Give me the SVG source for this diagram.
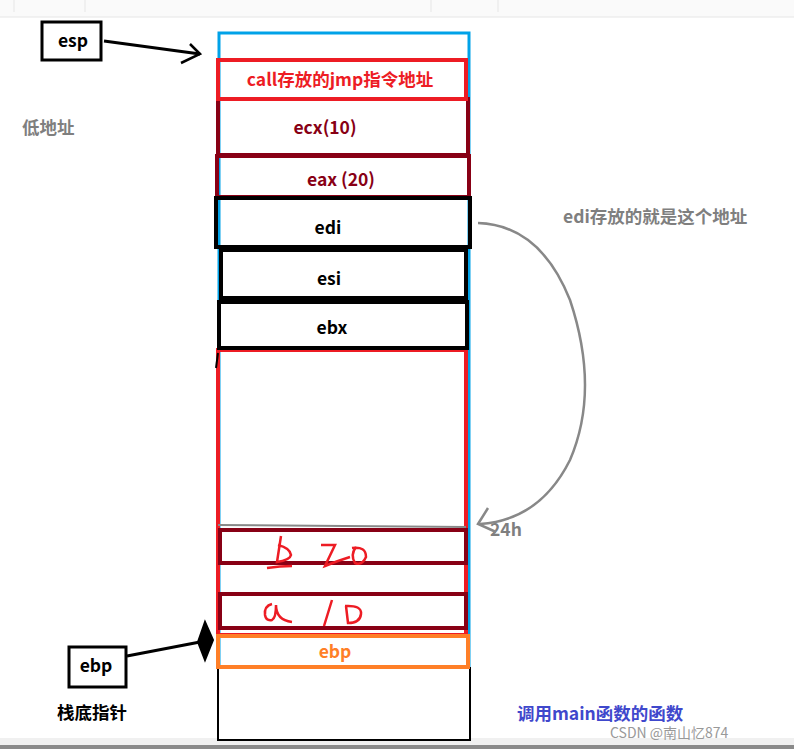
<svg xmlns="http://www.w3.org/2000/svg" width="794" height="749" viewBox="0 0 794 749">
<style>
text{font-family:"Noto Sans CJK SC","Liberation Sans",sans-serif;font-weight:bold;font-size:17.5px}
.c{text-anchor:middle}
.box{fill:none}
</style>
<rect width="794" height="749" fill="#fff"/>
<rect x="0" y="0" width="794" height="17" fill="#fafafa"/>
<line x1="0" y1="17" x2="794" y2="17" stroke="#e6e6e6"/>
<g stroke="#e6e6e6"><line x1="14" y1="0" x2="14" y2="12"/><line x1="85" y1="0" x2="85" y2="12"/><line x1="431" y1="0" x2="431" y2="12"/><line x1="498" y1="0" x2="498" y2="12"/></g>
<rect x="0" y="738" width="794" height="11" fill="#f0f0f0"/>
<rect x="0" y="745" width="794" height="4" fill="#8a8a8a"/>
<g id="stack">
<rect class="box" x="219" y="33" width="250" height="706" stroke="#00a2e8" stroke-width="3"/>
<rect x="218" y="668" width="252" height="72" fill="#fff" stroke="#000" stroke-width="2"/>
<rect class="box" x="218" y="99" width="250" height="56" stroke="#880015" stroke-width="4"/>
<rect class="box" x="218" y="350" width="248" height="285" stroke="#ed1c24" stroke-width="4"/>
<line x1="218" y1="525" x2="466" y2="527" stroke="#888" stroke-width="2"/>
</g>
<g id="n-call"><rect class="box" x="218" y="60" width="248" height="39" fill="#fff" stroke="#ed1c24" stroke-width="4"/><text class="c" x="340" y="86" fill="#ed1c24">call存放的jmp指令地址</text></g>
<g id="n-ecx"><text class="c" x="325" y="134" fill="#880015">ecx(10)</text></g>
<g id="n-eax"><rect class="box" x="217" y="156" width="252" height="41" stroke="#880015" stroke-width="4"/><text class="c" x="341" y="186" fill="#880015">eax (20)</text></g>
<g id="n-edi"><rect class="box" x="216" y="198" width="254" height="49" stroke="#000" stroke-width="4"/><text class="c" x="328" y="234" fill="#000">edi</text></g>
<g id="n-esi"><rect class="box" x="221" y="250" width="245" height="48" stroke="#000" stroke-width="4"/><text class="c" x="329" y="285" fill="#000">esi</text></g>
<g id="n-ebx"><rect class="box" x="219" y="302" width="248" height="46" stroke="#000" stroke-width="4"/><text class="c" x="332" y="334" fill="#000">ebx</text></g>
<g id="n-b"><rect class="box" x="220" y="530" width="246" height="33" stroke="#880015" stroke-width="4"/>
<g fill="none" stroke="#ed1c24" stroke-width="2.5"><path d="M281 536 L277 562 Q290 560 291 555 Q290 548 278 545 M267 568 Q280 566 292 566"/><path d="M321 545 L335 545 L325 566 Q340 560 350 557 M352 548 Q366 546 366 557 Q362 566 355 563 Q350 555 356 547"/></g></g>
<g id="n-a"><rect class="box" x="220" y="594" width="246" height="34" stroke="#880015" stroke-width="4"/>
<g fill="none" stroke="#ed1c24" stroke-width="2.5"><path d="M272 604 Q264 606 265 615 Q266 621 272 620 Q276 618 276 605 Q276 620 292 622"/><path d="M332 600 L324 626 M345 606 Q362 605 361 614 Q360 623 348 623 L346 606"/></g></g>
<g id="n-ebp"><rect class="box" x="218" y="636" width="250" height="31" fill="#fff" stroke="#ff7f27" stroke-width="4"/><text class="c" x="335" y="658" fill="#ff7f27">ebp</text></g>
<g id="n-esp"><rect x="42" y="22" width="59" height="38" fill="#fff" stroke="#000" stroke-width="3"/><text class="c" x="73" y="47" fill="#000">esp</text></g>
<g id="n-ebpp"><rect x="69" y="647" width="57" height="40" fill="#fff" stroke="#000" stroke-width="3"/><text class="c" x="96" y="672" fill="#000">ebp</text></g>
<g id="labels">
<text x="22" y="134" fill="#7f7f7f">低地址</text>
<text x="563" y="223" fill="#7f7f7f">edi存放的就是这个地址</text>
<text x="490" y="536" fill="#7f7f7f">24h</text>
<text x="57" y="719" fill="#000">栈底指针</text>
<text x="517" y="720" fill="#3f48cc">调用main函数的函数</text>
<text x="610" y="738" fill="#999" style="font-weight:normal;font-size:14px">CSDN @南山忆874</text>
</g>
<g id="connectors" fill="none">
<path d="M104 41 L200 54" stroke="#000" stroke-width="3"/>
<path d="M190 44 L200 54 L181 63" stroke="#000" stroke-width="2.5"/>
<path d="M127 656 L200 642" stroke="#000" stroke-width="3"/>
<path d="M205 622 L213 640 L205 660 L198 642 Z" fill="#000" stroke="#000" stroke-width="2"/>
<path d="M218 353 L216 368" stroke="#000" stroke-width="2"/>
<path d="M478 223 Q540 225 570 300 Q600 390 570 460 Q540 520 480 524" stroke="#888" stroke-width="2.5"/>
<path d="M488 508 L478 524 L496 532" stroke="#888" stroke-width="2.5"/>
</g>
</svg>
